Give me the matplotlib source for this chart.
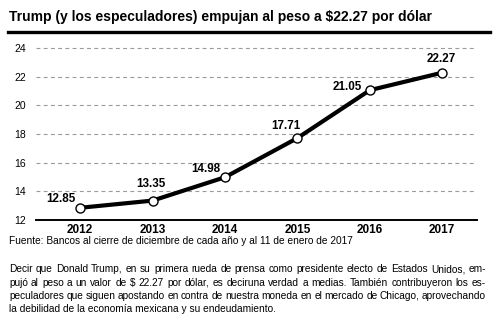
import matplotlib
matplotlib.use("Agg")
import matplotlib.pyplot as plt
from matplotlib.lines import Line2D

# ── Data ──────────────────────────────────────────────────────────
years  = ["2012", "2013", "2014", "2015", "2016", "2017"]
values = [12.85, 13.35, 14.98, 17.71, 21.05, 22.27]
value_labels = ["12.85", "13.35", "14.98", "17.71", "21.05", "22.27"]
yticks = [12, 14, 16, 18, 20, 22, 24]

title  = "Trump (y los especuladores) empujan al peso a $22.27 por dólar"
source = "Fuente: Bancos al cierre de diciembre de cada año y al 11 de enero de 2017"
body = [
    "Decir que Donald Trump, en su primera rueda de prensa como presidente electo de Estados Unidos, em-",
    "pujó al peso a un valor de $ 22.27 por dólar, es deciruna verdad a medias. También contribuyeron los es-",
    "peculadores que siguen apostando en contra de nuestra moneda en el mercado de Chicago, aprovechando",
    "la debilidad de la economía mexicana y su endeudamiento.",
]

# label offsets in points (dx, dy) relative to each marker
label_offsets = [(-14, 6), (-1, 12), (-14, 6), (-8, 9), (-16, 2), (-1, 10)]

plt.rcParams["font.family"] = ["Liberation Sans", "DejaVu Sans"]

fig = plt.figure(figsize=(5.0, 3.23), dpi=100, facecolor="white")
renderer = fig.canvas.get_renderer()

# ── Title + rule ──────────────────────────────────────────────────
# no condensed face installed: shrink the size until it spans the same width
t = fig.text(0.018, 0.947, title, fontsize=12, fontweight="bold",
             va="center", ha="left")
w = t.get_window_extent(renderer).width
t.set_fontsize(12 * 421 / w)
fig.add_artist(Line2D([0.016, 0.98], [0.901, 0.901], color="black", lw=2.4,
                      transform=fig.transFigure))

# ── Chart ─────────────────────────────────────────────────────────
ax = fig.add_axes([0.072, 0.319, 0.882, 0.555])
x = range(len(years))
ax.plot(x, values, color="black", lw=3.0, zorder=3, solid_joinstyle="round")
ax.plot(x, values, ls="none", marker="o", ms=6.5, mfc="white", mec="black",
        mew=1.0, zorder=4)
for i, (v, lab) in enumerate(zip(values, value_labels)):
    ax.annotate(lab, (i, v), xytext=label_offsets[i], textcoords="offset points",
                ha="center", va="center", fontsize=8.4, fontweight="bold")

ax.set_xlim(-0.61, 5.48)
ax.set_ylim(12, 24.5)
ax.set_yticks(yticks)
ax.set_yticklabels([str(t) for t in yticks], fontsize=7.5)
ax.set_xticks(list(x))
ax.set_xticklabels(years, fontsize=8.5, fontweight="bold")
ax.tick_params(axis="both", length=0)
ax.tick_params(axis="y", pad=7)
ax.tick_params(axis="x", pad=3)
for t in yticks[1:]:
    ax.axhline(t, color="#9a9a9a", lw=0.8, ls=(0, (3.5, 3)), zorder=1)
for s in ["top", "right", "left"]:
    ax.spines[s].set_visible(False)
ax.spines["bottom"].set_linewidth(1.4)

# ── Source + body text ────────────────────────────────────────────
fig.text(0.018, 0.254, source, fontsize=7.3, va="center", ha="left")

x0, x1 = 0.018, 0.972
y = 0.166
for k, line in enumerate(body):
    words = line.split(" ")
    if k == len(body) - 1:
        fig.text(x0, y, line, fontsize=7.3, va="center", ha="left")
    else:
        arts = [fig.text(0, y, w, fontsize=7.3, va="center", ha="left") for w in words]
        widths = [a.get_window_extent(renderer).width / fig.bbox.width for a in arts]
        gap = (x1 - x0 - sum(widths)) / (len(words) - 1)
        pos = x0
        for a, w in zip(arts, widths):
            a.set_x(pos)
            pos += w + gap
    y -= 0.0413

fig.savefig("out.png", dpi=100)
